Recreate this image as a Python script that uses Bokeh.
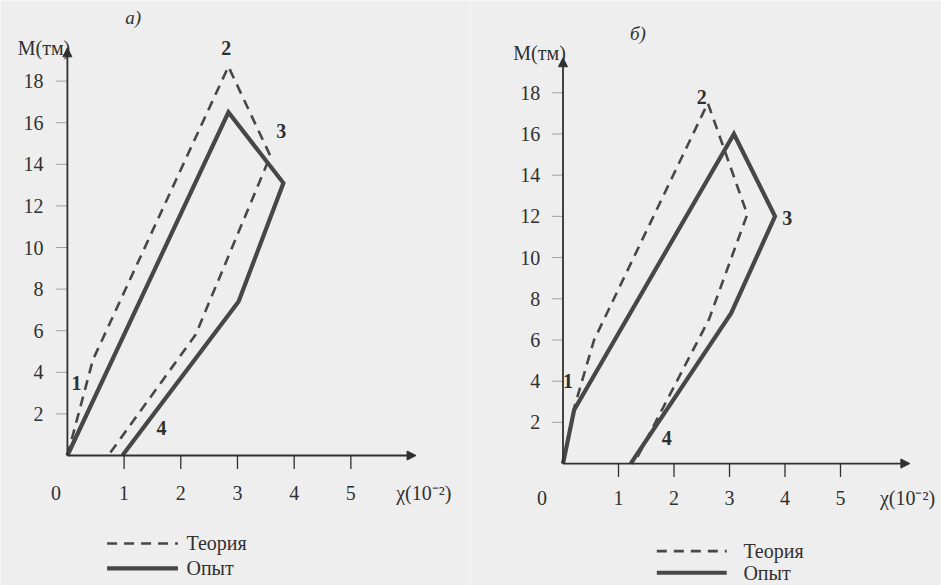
from bokeh.plotting import figure
from bokeh.layouts import row
from bokeh.models import Arrow, NormalHead, Range1d
from bokeh.core.properties import value
from bokeh.embed import file_html
from bokeh.resources import INLINE

# ---------------- data ----------------
panel_titles = ["а)", "б)"]
y_axis_title = "M(тм)"
x_axis_title = "χ(10⁻²)"
y_ticks = [2, 4, 6, 8, 10, 12, 14, 16, 18]
x_ticks = [0, 1, 2, 3, 4, 5]
series_names = ["Теория", "Опыт"]
point_names = ["1", "2", "3", "4"]

# panel а)
theory_a_x = [0, 0.45, 2.84, 3.58, 2.26, 0.72]
theory_a_y = [0, 4.6, 18.7, 14.4, 5.8, 0]
exp_a_x = [0, 2.84, 3.81, 3.02, 0.97]
exp_a_y = [0, 16.5, 13.1, 7.4, 0]

# panel б)
theory_b_x = [0, 0.2, 0.56, 2.61, 3.32, 2.63, 1.28]
theory_b_y = [0, 2.7, 6.0, 17.5, 12.1, 7.0, 0]
exp_b_x = [0, 0.2, 3.08, 3.82, 3.03, 1.22]
exp_b_y = [0, 2.6, 16.0, 12.0, 7.3, 0]

# ---------------- style / layout ----------------
BG = "#eeeeee"
INK = "#303030"
LINE = "#474747"
FONT = value("Liberation Serif")

panels = [
    dict(title=panel_titles[0], tx=theory_a_x, ty=theory_a_y, ex=exp_a_x, ey=exp_a_y,
         xr=(-1.18, 7.11), yr=(-6.25, 21.875), x_end=6.15, y_end=19.6,
         title_pos=(1.16, 21.05), ytitle_pos=(0.05, 19.6), ylab_x=-0.42, xlab_y=-1.78,
         zero_x=-0.2, xtitle_x=5.8,
         leg_x=(0.7, 1.95), leg_tx=2.1, leg_y=(-4.23, -5.43),
         pts=[(0.16, 3.5), (2.8, 19.6), (3.77, 15.6), (1.66, 1.3)]),
    dict(title=panel_titles[1], tx=theory_b_x, ty=theory_b_y, ex=exp_b_x, ey=exp_b_y,
         xr=(-1.667, 6.82), yr=(-5.92, 22.48), x_end=6.25, y_end=19.7,
         title_pos=(1.35, 20.9), ytitle_pos=(0.05, 19.95), ylab_x=-0.41, xlab_y=-1.65,
         zero_x=-0.38, xtitle_x=5.71,
         leg_x=(1.69, 2.95), leg_tx=3.25, leg_y=(-4.25, -5.3),
         pts=[(0.09, 4.0), (2.5, 17.8), (4.04, 11.9), (1.87, 1.26)]),
]


def make_panel(c, width):
    p = figure(width=width, height=585, output_backend="svg", toolbar_location=None,
               x_range=Range1d(*c["xr"]), y_range=Range1d(*c["yr"]),
               x_axis_type=None, y_axis_type=None, min_border=0,
               background_fill_color=BG, border_fill_color=BG, outline_line_color=None)
    p.grid.visible = False

    # axes with arrows
    p.add_layout(Arrow(end=NormalHead(size=9, fill_color=INK, line_color=INK),
                       x_start=0, y_start=0, x_end=0, y_end=c["y_end"],
                       line_color=INK, line_width=1.8))
    p.add_layout(Arrow(end=NormalHead(size=9, fill_color=INK, line_color=INK),
                       x_start=0, y_start=0, x_end=c["x_end"], y_end=0,
                       line_color=INK, line_width=1.8))

    # x ticks
    xt = [v for v in x_ticks if v > 0]
    p.segment(x0=xt, y0=[0] * len(xt), x1=xt, y1=[-0.65] * len(xt),
              line_color=INK, line_width=1.3)
    # faint y ticks
    p.segment(x0=[-0.2] * len(y_ticks), y0=y_ticks, x1=[0] * len(y_ticks), y1=y_ticks,
              line_color="#a0a0a0", line_width=1)

    # tick labels
    p.text(x=[c["ylab_x"]] * len(y_ticks), y=y_ticks, text=[str(v) for v in y_ticks],
           text_font=FONT, text_font_size="20px", text_color=INK,
           text_align="right", text_baseline="middle")
    p.text(x=[v if v else c["zero_x"] for v in x_ticks], y=[c["xlab_y"]] * len(x_ticks),
           text=[str(v) for v in x_ticks],
           text_font=FONT, text_font_size="20px", text_color=INK,
           text_align="center", text_baseline="middle")

    # axis titles and panel title
    p.text(x=[c["ytitle_pos"][0]], y=[c["ytitle_pos"][1]], text=[y_axis_title],
           text_font=FONT, text_font_size="20px", text_color=INK,
           text_align="right", text_baseline="middle")
    p.text(x=[c["xtitle_x"]], y=[c["xlab_y"]], text=[x_axis_title],
           text_font=FONT, text_font_size="20px", text_color=INK,
           text_align="left", text_baseline="middle")
    p.text(x=[c["title_pos"][0]], y=[c["title_pos"][1]], text=[c["title"]],
           text_font=FONT, text_font_size="19px", text_font_style="italic",
           text_color=INK, text_align="center", text_baseline="middle")

    # series
    p.line(c["tx"], c["ty"], line_color=LINE, line_width=2.6, line_dash="10 7")
    p.line(c["ex"], c["ey"], line_color=LINE, line_width=4.2, line_join="miter")

    # point numbers
    p.text(x=[q[0] for q in c["pts"]], y=[q[1] for q in c["pts"]], text=point_names,
           text_font=FONT, text_font_size="20px", text_font_style="bold",
           text_color=INK, text_align="center", text_baseline="middle")

    # legend
    lx0, lx1 = c["leg_x"]
    ly0, ly1 = c["leg_y"]
    p.segment(x0=[lx0], y0=[ly0], x1=[lx1], y1=[ly0], line_color=LINE,
              line_width=2.6, line_dash="10 7")
    p.segment(x0=[lx0], y0=[ly1], x1=[lx1], y1=[ly1], line_color=LINE, line_width=4.2)
    p.text(x=[c["leg_tx"]] * 2, y=[ly0, ly1], text=series_names,
           text_font=FONT, text_font_size="20px", text_color=INK,
           text_align="left", text_baseline="middle")
    return p


pa = make_panel(panels[0], 470)
pb = make_panel(panels[1], 471)
layout = row(pa, pb, spacing=0)

open("out.html", "w").write(file_html(layout, INLINE))
